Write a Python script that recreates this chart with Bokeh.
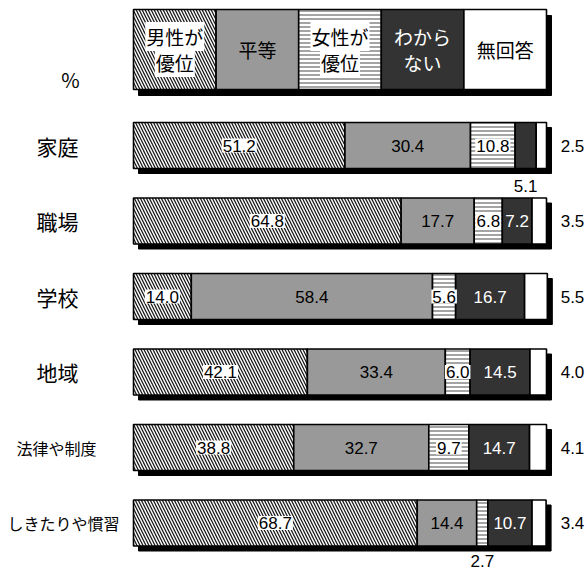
from bokeh.plotting import figure
from bokeh.models import Range1d
from bokeh.embed import file_html
from bokeh.resources import INLINE
from bokeh.core.properties import value

# ---------------- data ----------------
categories = ["家庭", "職場", "学校", "地域", "法律や制度", "しきたりや慣習"]
series = ["男性が優位", "平等", "女性が優位", "わからない", "無回答"]
male = [51.2, 64.8, 14.0, 42.1, 38.8, 68.7]
equal = [30.4, 17.7, 58.4, 33.4, 32.7, 14.4]
female = [10.8, 6.8, 5.6, 6.0, 9.7, 2.7]
unknown = [5.1, 7.2, 16.7, 14.5, 14.7, 10.7]
noanswer = [2.5, 3.5, 5.5, 4.0, 4.1, 3.4]
legend_lines = [["男性が", "優位"], ["平等"], ["女性が", "優位"], ["わから", "ない"], ["無回答"]]
unit_label = "%"

values = [male, equal, female, unknown, noanswer]

# ---------------- styles ----------------
fills = ["white", "#999999", "white", "#333333", "white"]
hatches = ["\\", "", "horizontal_line", "", ""]
hatch_colors = ["#1a1a1a", None, "#8c8c8c", None, None]
hatch_scales = [6, 1, 4, 1, 1]
hatch_weights = [1.3, 1, 1.6, 1, 1]
inside_text = ["black", "black", "black", "white", "black"]
inside_bg = ["white", None, "white", None, None]
label_center_px = [57, 57, 57, 57, 56, 63]

JP = "Noto Sans CJK JP"
NUM = "Liberation Sans"

W, H = 587, 571
PX_X = 4.13      # pixels per percent
X0 = 133         # pixel of 0 %
PX_Y = 75.5      # pixels per row
Y1 = 145         # pixel of first row centre

p = figure(width=W, height=H,
           x_range=Range1d(-X0 / PX_X, (W - X0) / PX_X),
           y_range=Range1d(1 + (H - Y1) / PX_Y, 1 - Y1 / PX_Y),
           output_backend="svg", toolbar_location=None, min_border=0,
           x_axis_location=None, y_axis_location=None)
p.grid.visible = False
p.outline_line_color = None
p.background_fill_color = "white"

dx = 5 / PX_X
dy = 5 / PX_Y
bar_h = 46 / PX_Y
leg_h = 80 / PX_Y
leg_y = 1 + (49 - Y1) / PX_Y

rows = list(range(1, len(categories) + 1))
totals = [sum(v[i] for v in values) for i in range(len(categories))]

# shadows
p.hbar(y=[r + dy for r in rows], left=[dx] * len(rows),
       right=[t + dx for t in totals], height=bar_h,
       fill_color="black", line_color="black")
p.hbar(y=[leg_y + 6 / PX_Y], left=[dx], right=[100 + dx], height=leg_h,
       fill_color="black", line_color="black")

# segments + legend boxes
lefts = [0.0] * len(categories)
seg_info = []
for k, vals in enumerate(values):
    rights = [l + v for l, v in zip(lefts, vals)]
    kw = dict(fill_color=fills[k], line_color="black", line_width=1.6)
    if hatches[k]:
        kw.update(hatch_pattern=hatches[k], hatch_color=hatch_colors[k],
                  hatch_scale=hatch_scales[k], hatch_weight=hatch_weights[k])
    p.hbar(y=rows, left=lefts, right=rights, height=bar_h, **kw)
    p.hbar(y=[leg_y], left=[20 * k], right=[20 * (k + 1)], height=leg_h, **kw)
    seg_info.append((lefts, rights))
    lefts = rights

# legend texts
for k, lines in enumerate(legend_lines):
    cx = 20 * k + 10
    if len(lines) == 1:
        ys = [leg_y]
    else:
        ys = [leg_y - 13 / PX_Y, leg_y + 13 / PX_Y]
    kw = dict(text_color=inside_text[k])
    if inside_bg[k]:
        kw.update(background_fill_color=inside_bg[k], padding=1)
    p.text(x=[cx] * len(lines), y=ys, text=lines, text_align="center",
           text_baseline="middle", text_font=value(JP), text_font_size="19px", **kw)

# category labels
p.text(x=[(c - X0) / PX_X for c in label_center_px], y=rows, text=categories,
       text_align="center", text_baseline="middle", text_font=value(JP),
       text_font_size=["21px" if len(c) <= 2 else "16px" for c in categories])

p.text(x=[(70 - X0) / PX_X], y=[1 + (79 - Y1) / PX_Y], text=[unit_label],
       text_align="center", text_baseline="middle", text_font=value(JP),
       text_font_size="20px")

# value labels
for k, vals in enumerate(values):
    ls, rs = seg_info[k]
    in_x, in_y, in_t = [], [], []
    out_x, out_y, out_t = [], [], []
    for i, v in enumerate(vals):
        lab = f"{v:.1f}"
        if k == len(values) - 1:
            out_x.append((572 - X0) / PX_X); out_y.append(rows[i]); out_t.append(lab)
        elif v < 5.5:
            off = 38 if i == len(categories) - 1 else 40
            out_x.append((ls[i] + rs[i]) / 2); out_y.append(rows[i] + off / PX_Y); out_t.append(lab)
        else:
            in_x.append((ls[i] + rs[i]) / 2); in_y.append(rows[i]); in_t.append(lab)
    if in_x:
        kw = dict(text_color=inside_text[k])
        if inside_bg[k]:
            kw.update(background_fill_color=inside_bg[k], padding=1)
        p.text(x=in_x, y=in_y, text=in_t, text_align="center", text_baseline="middle",
               text_font=value(NUM), text_font_size="17px", **kw)
    if out_x:
        p.text(x=out_x, y=out_y, text=out_t, text_align="center", text_baseline="middle",
               text_font=value(NUM), text_font_size="17px", text_color="black")

open("out.html", "w").write(file_html(p, INLINE))
